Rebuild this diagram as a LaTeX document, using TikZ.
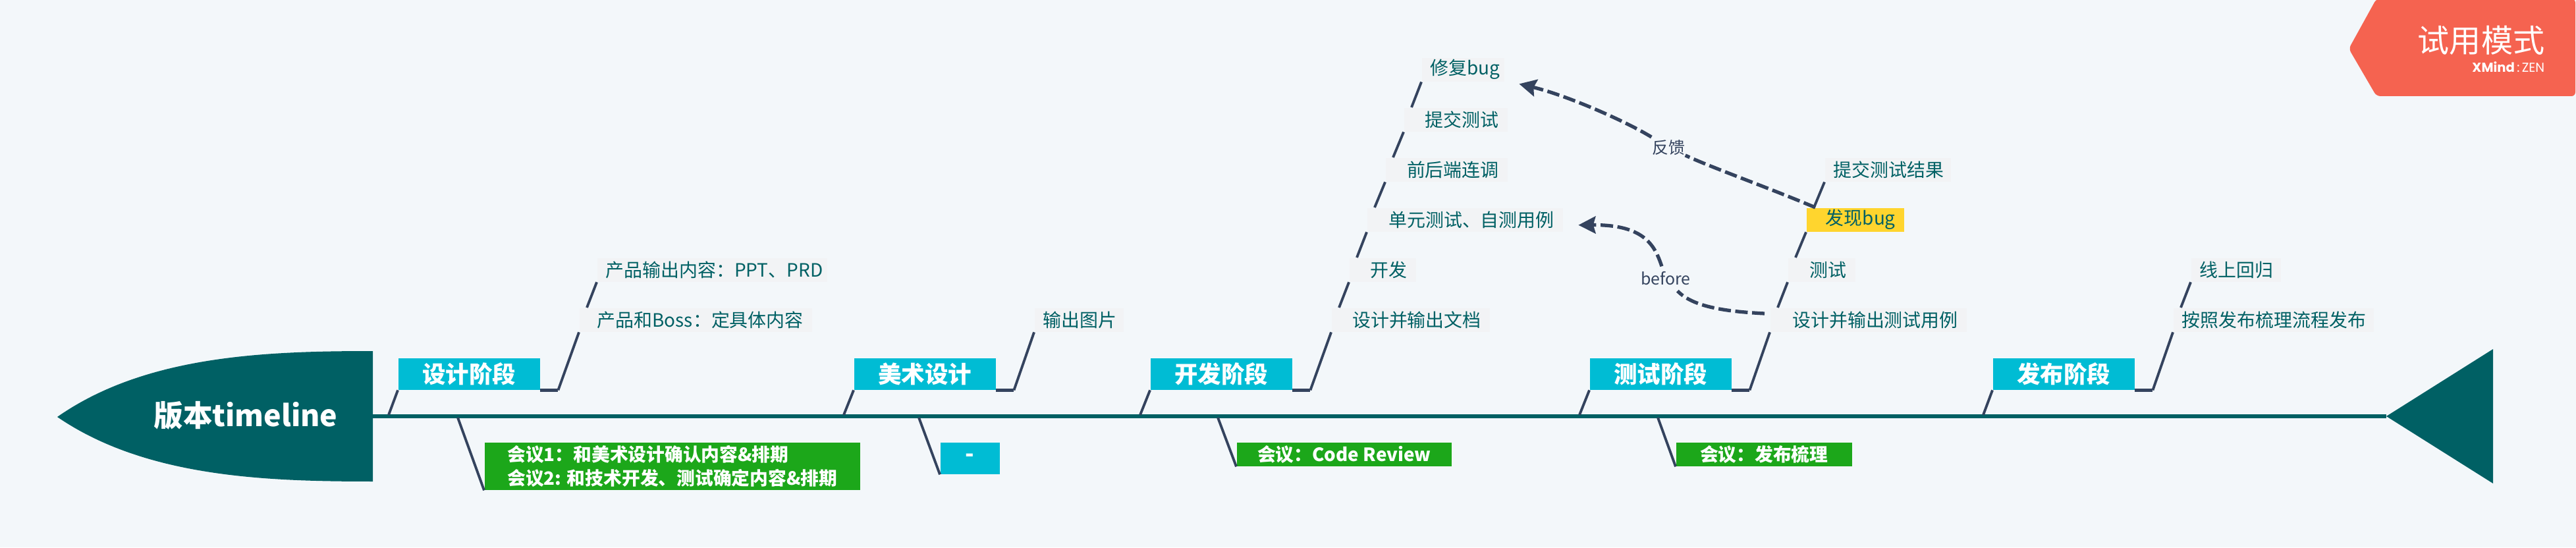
\documentclass[tikz,border=0pt]{standalone}
\usepackage{fontspec}
\setmainfont{Noto Sans CJK SC}
\newfontfamily\brandfont{Poppins}
\usepackage{xcolor}
\usepackage{tikz}
\usetikzlibrary{arrows.meta}
\definecolor{XPaper}{HTML}{F3F7FA}
\definecolor{XTeal}{HTML}{006064}
\definecolor{XCyan}{HTML}{00BCD4}
\definecolor{XGreen}{HTML}{1CA71A}
\definecolor{XBone}{HTML}{34435E}
\definecolor{XSub}{HTML}{F2F3F5}
\definecolor{XYellow}{HTML}{FFD52E}
\definecolor{XRed}{HTML}{F56350}
\tikzset{
  stagebox/.style={fill=XCyan,text=white,anchor=north west,inner sep=0pt,minimum width=2.15cm,minimum height=.48cm,font=\fontsize{10.1}{12}\selectfont\bfseries},
  subtopic/.style={fill=XSub,text=XTeal,anchor=north west,inner xsep=.13cm,inner ysep=0pt,minimum height=.36cm,text width=#1cm-.26cm,align=right,font=\fontsize{7.95}{9}\selectfont},
  meetbox/.style={fill=XGreen,text=white,anchor=north west,inner sep=0pt,minimum width=#1cm,align=left,font=\fontsize{7.9}{10.3}\selectfont\bfseries},
  bone/.style={draw=XBone,line width=1.1pt},
  elbow/.style={draw=XBone,line width=1.3pt},
  relline/.style={draw=XBone,line width=1.5pt,dash pattern=on 5.4pt off 1.9pt,-{Stealth[length=7.4pt,width=7.4pt,inset=1pt]}},
  rellabel/.style={text=XBone,inner sep=0pt,minimum width=.5cm,minimum height=.36cm,font=\fontsize{7.1}{9}\selectfont},
}
\begin{document}
\begin{tikzpicture}
\useasboundingbox (0,0) rectangle (39.11,8.31);
\fill[XPaper] (0,0) rectangle (39.11,8.31);
% fish head, tail, spine
\fill[XTeal] (.87,1.98) .. controls (2.2,2.91) and (4.0,2.98) .. (5.66,2.98) -- (5.66,1.00) .. controls (4.0,1.00) and (2.2,1.07) .. cycle;
\fill[XTeal] (36.23,1.99) -- (37.85,3.01) -- (37.85,.97) -- cycle;
\coordinate (headend) at (5.66,1.99);
\coordinate (tailtip) at (36.23,1.99);
\draw[XTeal,line width=1.45pt] (headend) -- (tailtip);
\node[text=white,inner sep=0pt,font=\fontsize{12.7}{15}\selectfont\bfseries] (head) at (3.73,2.00) {版本timeline};
% stages
\foreach \x/\name/\lab in {6.04/design/设计阶段,12.96/art/美术设计,17.46/dev/开发阶段,24.13/testing/测试阶段,30.25/release/发布阶段} {
  \node[stagebox] (\name) at (\x,2.88) {\lab};
}
% sub topics
\foreach \x/\y/\w/\name/\lab in {
  9.06/4.40/3.49/output/产品输出内容：PPT、PRD,
  8.79/3.64/3.53/boss/产品和Boss：定具体内容,
  15.70/3.64/1.35/images/输出图片,
  21.58/7.44/1.25/repair/修复bug,
  21.31/6.68/1.57/submit/提交测试,
  21.03/5.92/1.85/joint/前后端连调,
  20.75/5.16/2.97/unit/单元测试、自测用例,
  20.48/4.40/1.01/coding/开发,
  20.21/3.64/2.40/docs/设计并输出文档,
  27.70/5.92/1.91/result/提交测试结果,
  27.14/4.40/1.02/run/测试,
  26.87/3.64/2.98/cases/设计并输出测试用例,
  33.26/4.40/1.36/regress/线上回归,
  32.99/3.64/3.04/publish/按照发布梳理流程发布} {
  \node[subtopic=\w] (\name) at (\x,\y) {\lab};
}
\node[subtopic=1.48,fill=XYellow] (found) at (27.42,5.16) {发现bug};
% meetings under the spine
\node[meetbox=5.70,minimum height=.72cm] (meetone) at (7.35,1.60) {会议1：和美术设计确认内容\&排期\\会议2: 和技术开发、测试确定内容\&排期};
\node[stagebox,minimum width=.90cm] (blank) at (14.27,1.60) {-};
\node[meetbox=3.26,minimum height=.36cm] (meettwo) at (18.77,1.60) {会议：Code Review};
\node[meetbox=2.67,minimum height=.36cm] (meetthree) at (25.44,1.60) {会议：发布梳理};
% bones
\foreach \name/\first/\rx in {design/boss/5.90,art/images/12.81,dev/docs/17.31,testing/cases/23.98,release/publish/30.11} {
  \coordinate (\name-root) at (\rx,2.01);
  \draw[bone] (\name-root) -- (\name.south west);
  \draw[elbow] (\name.south east) -- ++(.27,0) coordinate (\name-knee);
  \draw[bone] (\name-knee) -- (\first.south west);
}
\foreach \name/\rx in {meetone/6.95,blank/13.95,meettwo/18.49,meetthree/25.17} {
  \coordinate (\name-root) at (\rx,1.97);
  \draw[bone] (\name-root) -- (\name.south west);
}
\foreach \a/\b in {boss/output,docs/coding,coding/unit,unit/joint,joint/submit,submit/repair,cases/run,run/found,found/result,publish/regress} {
  \draw[bone] ([xshift=.12cm]\a.north west) -- (\b.south west);
}
% relationships
\node[rellabel] (feedback) at (25.33,6.07) {反馈};
\draw[relline] ([xshift=.14cm]found.north west) .. controls (26.80,5.48) and (26.00,5.76) .. (feedback) .. controls (24.70,6.46) and (23.80,6.86) .. ([shift={(.22,-.03)}]repair.south east);
\node[rellabel] (beforelab) at (25.29,4.08) {before};
\draw[relline] ([shift={(-.08,-.09)}]cases.north west) .. controls (26.2,3.58) and (25.7,3.65) .. (beforelab) .. controls (25.12,4.6) and (24.95,4.9) .. ([shift={(.23,-.08)}]unit.east);
% trial badge
\fill[XRed,rounded corners=.06cm] (39.10,8.33) -- (36.08,8.33) -- (35.66,7.57) -- (36.08,6.85) -- (39.10,6.85) -- cycle;
\node[text=white,anchor=east,inner sep=0pt,font=\fontsize{13.7}{15}\selectfont] (trial) at (38.64,7.70) {试用模式};
\node[text=white,anchor=east,inner sep=0pt,font=\fontsize{5.6}{7}\brandfont] (brand) at (38.64,7.29) {\textbf{XMind}\,:\,ZEN};
\end{tikzpicture}
\end{document}
